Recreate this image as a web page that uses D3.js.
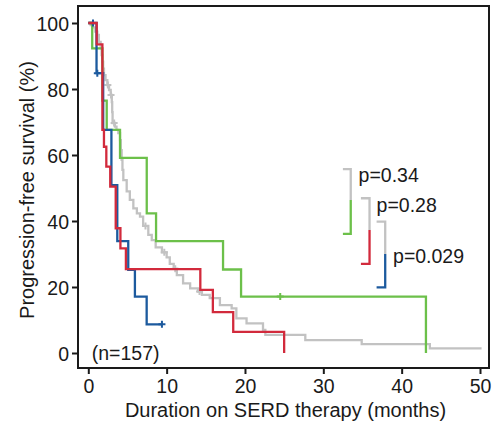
<!DOCTYPE html>
<html>
<head>
<meta charset="utf-8">
<script src="https://cdn.jsdelivr.net/npm/d3@7"></script>
<style>
  body { margin: 0; background: #fff; }
  svg { display: block; }
</style>
</head>
<body>
<script>
//------------------------------------------------------------------------------
// data: Kaplan-Meier steps (months, % progression-free)

const grayTime = [0, 0.3, 0.6, 0.9, 1.15, 1.35, 1.58, 1.7, 1.79, 1.9, 2.0, 2.2, 2.43, 2.65, 2.86, 3.0, 3.05, 3.1, 3.4, 3.6, 3.83, 4.05, 4.15, 4.26, 4.36, 4.47, 4.9, 5.3, 5.75, 6.2, 6.6, 7.0, 7.66, 8.1, 8.6, 9.4, 10.0, 10.4, 10.9, 11.3, 12.1, 13.0, 14.0, 14.5, 15.5, 16.8, 18.3, 18.9, 20.2, 22.3, 22.6, 27.7, 34.9, 43.6, 50.2]
const graySurv = [100, 99.4, 98.7, 97.4, 96.4, 94.3, 92.3, 90.3, 88.3, 86.2, 84.2, 82.7, 81.2, 79.7, 78.2, 76.0, 73.0, 69.7, 68.6, 67.6, 66.6, 64.5, 61.5, 58.5, 55.5, 52.4, 49.0, 46.4, 43.8, 42.3, 41.3, 38.5, 35.8, 34.2, 32.0, 30.5, 29.0, 27.0, 25.5, 23.6, 21.1, 19.6, 18.6, 17.6, 16.6, 14.5, 13.5, 10.5, 9.0, 7.0, 5.5, 3.9, 2.7, 1.4, 1.4]
const grayCens = [2.5, 2.9, 3.3, 7.3, 9.7, 11.1, 14.2]

const greenTime = [0, 0.5, 1.8, 2.35, 4.05, 7.46, 8.65, 17.2, 19.5, 43.1]
const greenSurv = [100, 92.3, 76.5, 67.6, 59.1, 42.3, 33.9, 25.3, 17.1, 0]
const greenCens = [24.5]

const blueTime = [0, 1.05, 1.9, 2.95, 3.7, 5.1, 5.95, 7.45, 9.4]
const blueSurv = [100, 84.8, 67.6, 50.9, 33.9, 25.2, 17.1, 8.7, 8.7]
const blueCens = [0.6, 1.15, 9.4]

const redTime = [0, 1.07, 1.8, 2.0, 2.3, 2.8, 3.5, 4.1, 4.8, 14.3, 15.9, 18.5, 25.0]
const redSurv = [100, 93.5, 67.6, 62.5, 56.5, 50.4, 37.8, 31.7, 25.4, 19.1, 12.4, 6.4, 0]
const redCens = []

const xTicks = [0, 10, 20, 30, 40, 50]
const yTicks = [0, 20, 40, 60, 80, 100]

// p-value brackets: x left/right, y top/split/bottom, label anchor
const pLabels = ["p=0.34", "p=0.28", "p=0.029"]
const bracketX = [[32.5, 33.5], [34.8, 35.9], [36.8, 37.9]]
const bracketY = [[55.7, 46.4, 36.1], [46.9, 37.3, 27.0], [39.8, 30.0, 19.9]]
const labelPos = [[34.5, 51.8], [36.8, 42.8], [38.9, 27.2]]

//------------------------------------------------------------------------------

const W = 500, H = 422
const font = "'Liberation Sans', Arial, Helvetica, sans-serif"
const ink = "#1a1a1a"

const colors = { gray: "#c2c2c2", green: "#6cc04a", blue: "#1c5a9e", red: "#d22a3c" }

const svg = d3.select("body")
    .append("svg")
    .attr("width", W)
    .attr("height", H)

// scales: months -> px, percent -> px
const x = d3.scaleLinear().domain([0, 50]).range([88.3, 480])
const y = d3.scaleLinear().domain([0, 100]).range([353, 23])

// plot frame
const box = { left: 78, top: 6, right: 489, bottom: 368 }

//------------------------------------------------------------------------------
// axes

const xAxis = svg.append("g")
    .attr("transform", "translate(0," + box.bottom + ")")
    .call(d3.axisBottom(x).tickValues(xTicks).tickSize(6).tickPadding(5))
xAxis.select(".domain").remove()

const yAxis = svg.append("g")
    .attr("transform", "translate(" + box.left + ",0)")
    .call(d3.axisLeft(y).tickValues(yTicks).tickSize(6).tickPadding(3))
yAxis.select(".domain").remove()
yAxis.selectAll(".tick text").attr("dy", "0.36em")

svg.selectAll(".tick line").attr("stroke", ink).attr("stroke-width", 2)
svg.selectAll(".tick text")
    .attr("fill", ink)
    .style("font-family", font)
    .style("font-size", "19.5px")

//------------------------------------------------------------------------------
// survival curves (step after), gray cohort underneath

const line = d3.line()
    .x(d => x(d[0]))
    .y(d => y(d[1]))
    .curve(d3.curveStepAfter)

function survAt(times, surv, t) {
    let s = surv[0]
    times.forEach((ti, i) => { if (ti <= t) s = surv[i] })
    return s
}

const groups = [
    { times: grayTime, surv: graySurv, cens: grayCens, color: colors.gray },
    { times: greenTime, surv: greenSurv, cens: greenCens, color: colors.green },
    { times: blueTime, surv: blueSurv, cens: blueCens, color: colors.blue },
    { times: redTime, surv: redSurv, cens: redCens, color: colors.red }
]

groups.forEach(g => {
    const pts = g.times.map((t, i) => [t, g.surv[i]])
    svg.append("path")
        .datum(pts)
        .attr("d", line)
        .attr("fill", "none")
        .attr("stroke", g.color)
        .attr("stroke-width", 2.3)

    // censor marks as small plus signs
    svg.append("g")
        .selectAll("path")
        .data(g.cens)
        .join("path")
        .attr("d", t => {
            const cx = x(t), cy = y(survAt(g.times, g.surv, t))
            return "M" + (cx - 3.5) + "," + cy + "H" + (cx + 3.5) +
                "M" + cx + "," + (cy - 3.5) + "V" + (cy + 3.5)
        })
        .attr("stroke", g.color)
        .attr("stroke-width", 2)
})

//------------------------------------------------------------------------------
// p-value brackets

const bracketColors = [colors.green, colors.red, colors.blue]

pLabels.forEach((lab, i) => {
    const [xl, xr] = bracketX[i]
    const [yt, ym, yb] = bracketY[i]
    // gray upper half
    svg.append("path")
        .attr("d", "M" + x(xl) + "," + y(yt) + "H" + x(xr) + "V" + y(ym))
        .attr("fill", "none")
        .attr("stroke", colors.gray)
        .attr("stroke-width", 2.3)
    // coloured lower half
    svg.append("path")
        .attr("d", "M" + x(xr) + "," + y(ym) + "V" + y(yb) + "H" + x(xl))
        .attr("fill", "none")
        .attr("stroke", bracketColors[i])
        .attr("stroke-width", 2.3)
    svg.append("text")
        .attr("x", x(labelPos[i][0]))
        .attr("y", y(labelPos[i][1]))
        .attr("fill", ink)
        .style("font-family", font)
        .style("font-size", "19.5px")
        .text(lab)
})

//------------------------------------------------------------------------------
// frame and labels

svg.append("rect")
    .attr("x", box.left)
    .attr("y", box.top)
    .attr("width", box.right - box.left)
    .attr("height", box.bottom - box.top)
    .attr("fill", "none")
    .attr("stroke", ink)
    .attr("stroke-width", 2)

svg.append("text")
    .attr("x", x(0.44))
    .attr("y", y(-2.1))
    .attr("fill", ink)
    .style("font-family", font)
    .style("font-size", "19.5px")
    .text("(n=157)")

svg.append("text")
    .attr("text-anchor", "middle")
    .attr("x", (box.left + box.right) / 2 + 2)
    .attr("y", 417)
    .attr("fill", ink)
    .style("font-family", font)
    .style("font-size", "20px")
    .text("Duration on SERD therapy (months)")

svg.append("text")
    .attr("text-anchor", "middle")
    .attr("transform", "translate(34," + ((box.top + box.bottom) / 2 + 3) + ") rotate(-90)")
    .attr("fill", ink)
    .style("font-family", font)
    .style("font-size", "20px")
    .text("Progression-free survival (%)")
</script>
</body>
</html>
